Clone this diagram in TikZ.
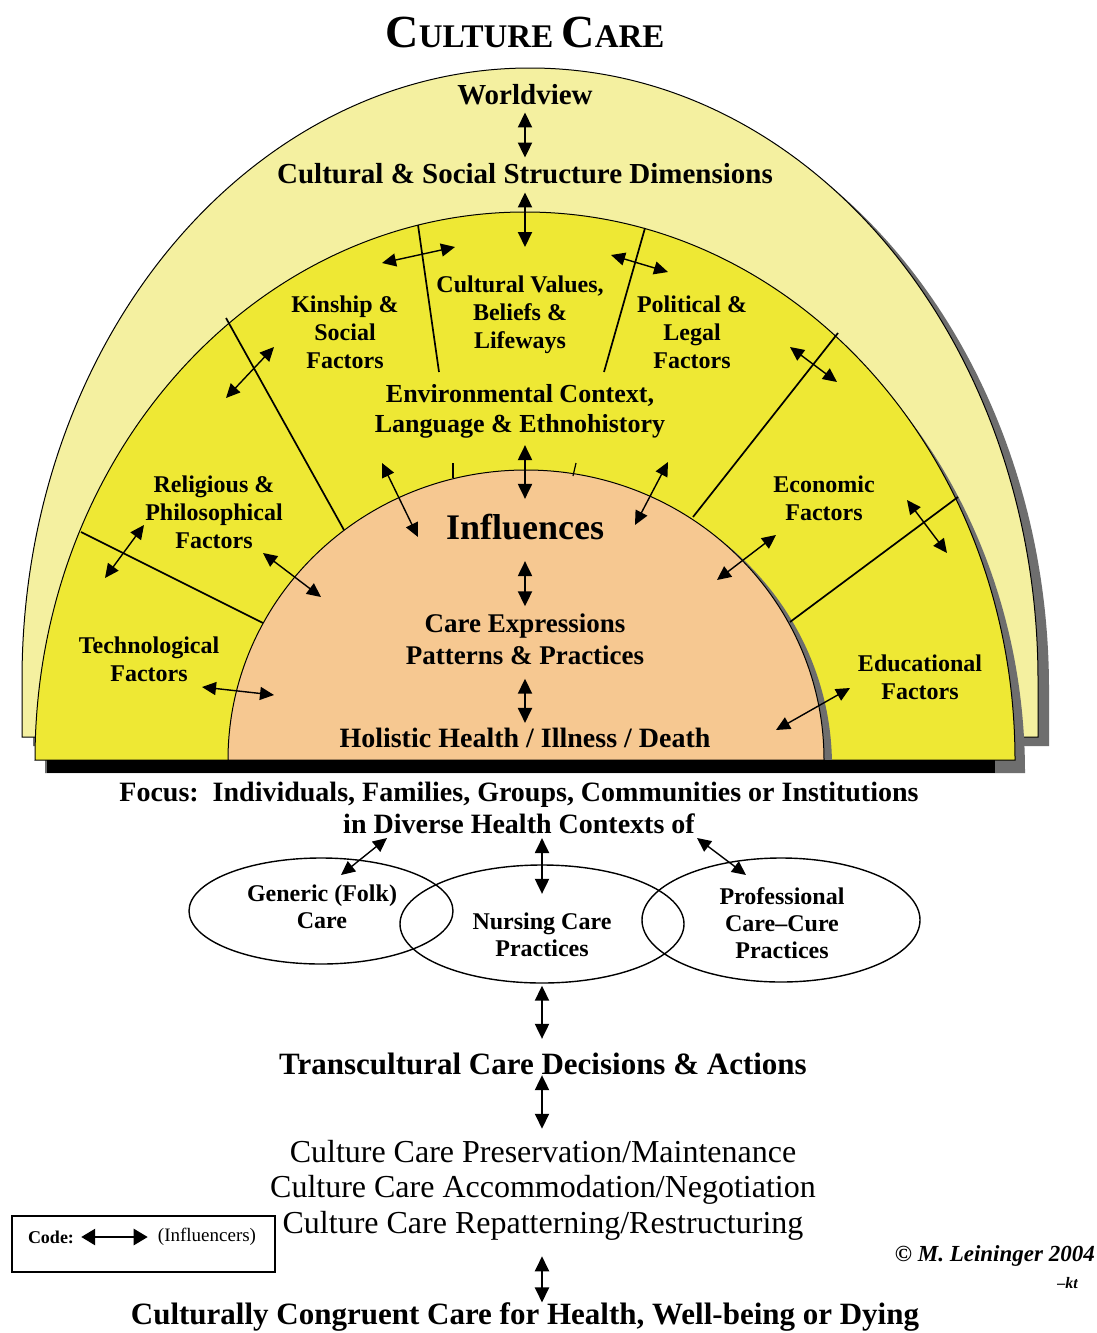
\documentclass[tikz,border=0pt]{standalone}
\usepackage{fontspec}
\setmainfont{Liberation Serif}
\usetikzlibrary{arrows.meta,shapes.geometric}

\definecolor{paleyellow}{RGB}{244,240,160}
\definecolor{bandyellow}{RGB}{238,232,52}
\definecolor{peach}{RGB}{246,200,145}
\definecolor{shadowgrey}{RGB}{110,110,110}

\begin{document}
\begin{tikzpicture}[
        x=1pt, y=-1pt,
        every node/.style={align=center, inner sep=0pt},
        infl/.style={{Triangle[length=15pt,width=14pt]}-{Triangle[length=15pt,width=14pt]}, line width=2pt},
        thin infl/.style={{Triangle[length=14pt,width=13pt]}-{Triangle[length=14pt,width=13pt]}, line width=1.4pt},
        rim/.style={draw=black, line width=1pt},
        divider/.style={line width=1.7pt},
        heading/.style={font=\bfseries\fontsize{29}{32}\selectfont},
        factor/.style={font=\bfseries\fontsize{24}{28}\selectfont},
        ovaltext/.style={font=\bfseries\fontsize{24}{27}\selectfont},
        modetext/.style={font=\fontsize{32}{35.5}\selectfont},
        oval/.style={ellipse, draw, line width=1.4pt}
    ]
        \useasboundingbox[fill=white] (0,0) rectangle (1096,1333);

        % Outer arch (worldview)
        \fill[shadowgrey, xshift=11pt, yshift=-9pt] (22,737) -- (22,680) arc[start angle=180, end angle=0, x radius=508pt, y radius=612pt] -- (1038,737) -- cycle;
        \path[fill=paleyellow, rim] (22,737) -- (22,680) arc[start angle=180, end angle=0, x radius=508pt, y radius=612pt] -- (1038,737) -- cycle;

        % Factor band
        \fill[shadowgrey, xshift=10pt, yshift=-13pt] (35,760) arc[start angle=180, end angle=0, x radius=490pt, y radius=548pt] -- cycle;
        \path[fill=bandyellow, rim] (35,760) arc[start angle=180, end angle=0, x radius=490pt, y radius=548pt] -- cycle;

        % Inner half circle
        \fill[shadowgrey, xshift=8pt, yshift=-6pt] (228,760) arc[start angle=180, end angle=0, x radius=298pt, y radius=290pt] -- cycle;
        \path[fill=peach, rim] (228,760) arc[start angle=180, end angle=0, x radius=298pt, y radius=290pt] -- cycle;

        \fill[black] (47,760) rectangle (995,773);

        % Dividers
        \draw[divider] (81,532) -- (263,623);
        \draw[divider] (226,318) -- (344,530);
        \draw[divider] (418,225) -- (439,372);
        \draw[divider] (645,228) -- (604,372);
        \draw[divider] (838,333) -- (693,517);
        \draw[divider] (958,497) -- (790,622);
        \draw[line width=1.2pt] (453,463) -- (453,478);
        \draw[line width=1.2pt] (576,463) -- (573,476);

        % Labels
        \node[font=\bfseries\fontsize{33}{33}\selectfont] (title) at (525,32) {{\fontsize{46}{46}\selectfont C}ULTURE {\fontsize{46}{46}\selectfont C}ARE};
        \node[heading] (world) at (525,95) {Worldview};
        \node[heading] (css) at (525,174) {Cultural \& Social Structure Dimensions};
        \node[factor] (kin) at (345,332) {Kinship \&\\Social\\Factors};
        \node[factor] (cvb) at (520,315) {Cultural Values,\\Beliefs \&\\Lifeways};
        \node[factor] (pol) at (692,332) {Political \&\\Legal\\Factors};
        \node[font=\bfseries\fontsize{26}{30}\selectfont] (env) at (520,411) {Environmental Context,\\Language \& Ethnohistory};
        \node[factor] (rel) at (214,512) {Religious \&\\Philosophical\\Factors};
        \node[factor] (eco) at (824,498) {Economic\\Factors};
        \node[factor] (tech) at (149,659) {Technological\\Factors};
        \node[factor] (edu) at (920,677) {Educational\\Factors};
        \node[font=\bfseries\fontsize{36}{36}\selectfont] (infl) at (525,527) {Influences};
        \node[font=\bfseries\fontsize{27}{32}\selectfont] (care) at (525,639) {Care Expressions\\Patterns \& Practices};
        \node[font=\bfseries\fontsize{28}{32}\selectfont] (hol) at (525,738) {Holistic Health / Illness / Death};
        \node[font=\bfseries\fontsize{28}{32}\selectfont] (focus) at (519,808) {Focus:\ \ Individuals, Families, Groups, Communities or Institutions\\in Diverse Health Contexts of};

        % Health care systems
        \node[oval, minimum width=264pt, minimum height=106pt] (generic) at (321,911) {};
        \node[oval, minimum width=284pt, minimum height=118pt] (nursing) at (542,924) {};
        \node[oval, minimum width=278pt, minimum height=124pt] (prof) at (781,920) {};
        \node[ovaltext] (generictxt) at (322,907) {Generic (Folk)\\Care};
        \node[ovaltext] (nursetxt) at (542,935) {Nursing Care\\Practices};
        \node[ovaltext] (proftxt) at (782,923) {Professional\\Care--Cure\\Practices};

        % Decisions and outcome
        \node[font=\bfseries\fontsize{31}{31}\selectfont] (trans) at (543,1064) {Transcultural Care Decisions \& Actions};
        \node[modetext] (modes) at (543,1190) {Culture Care Preservation/Maintenance\\Culture Care Accommodation/Negotiation\\Culture Care Repatterning/Restructuring};
        \node[font=\bfseries\fontsize{31}{31}\selectfont] (goal) at (525,1317) {Culturally Congruent Care for Health, Well-being or Dying};

        % Code box
        \node[draw, line width=1.5pt, minimum width=263pt, minimum height=56pt] (codebox) at (143.5,1244) {};
        \node[font=\bfseries\fontsize{18}{18}\selectfont] (codelbl) at (51,1237) {Code:};
        \node[font=\fontsize{19}{19}\selectfont] (codeinf) at (207,1237) {(Influencers)};
        \draw[{Triangle[length=14pt,width=16pt]}-{Triangle[length=14pt,width=16pt]}, line width=2.6pt, shorten <=7pt, shorten >=10pt] (codelbl.east) -- (codeinf.west);

        \node[font=\bfseries\itshape\fontsize{23}{23}\selectfont, anchor=east] (copy) at (1095,1256) {© M. Leininger 2004};
        \node[font=\bfseries\itshape\fontsize{16}{16}\selectfont, anchor=east] (kt) at (1078,1283) {--kt};

        % Vertical influence arrows
        \coordinate (cvtop) at (525,247);
        \draw[infl, shorten <=7pt, shorten >=6pt] (world.south) -- (world.south |- css.north);
        \draw[infl, shorten <=8pt] (css.south) -- (cvtop);
        \draw[infl, shorten <=7pt, shorten >=15pt] (env.south -| infl.north) -- (infl.north);
        \draw[infl, shorten <=21pt, shorten >=7pt] (infl.south) -- (care.north);
        \draw[infl, shorten <=14pt, shorten >=5pt] (care.south) -- (hol.north);
        \draw[infl, shorten <=4pt, shorten >=19pt] (nursetxt.north |- focus.south) -- (nursetxt.north);
        \draw[infl, shorten <=2pt, shorten >=14pt] (nursing.south) -- (nursing.south |- trans.north);
        \draw[infl, shorten >=11pt] (trans.south -| nursing.south) -- (nursing.south |- modes.north);
        \draw[infl, shorten <=16pt] (modes.south -| nursing.south) -- (nursing.south |- goal.north);

        % Arrows across dividers
        \coordinate (ks1) at (382,263);  \coordinate (ks2) at (455,247);
        \coordinate (cp1) at (611,255);  \coordinate (cp2) at (668,272);
        \coordinate (kr1) at (274,347);  \coordinate (kr2) at (226,398);
        \coordinate (pe1) at (790,347);  \coordinate (pe2) at (837,382);
        \coordinate (rt1) at (144,525);  \coordinate (rt2) at (105,578);
        \coordinate (ee1) at (907,500);  \coordinate (ee2) at (947,553);
        \draw[thin infl] (ks1) -- (ks2);
        \draw[thin infl] (cp1) -- (cp2);
        \draw[thin infl] (kr1) -- (kr2);
        \draw[thin infl] (pe1) -- (pe2);
        \draw[thin infl] (rt1) -- (rt2);
        \draw[thin infl] (ee1) -- (ee2);

        % Arrows into the inner half circle
        \coordinate (ri1) at (263,553);  \coordinate (ri2) at (321,597);
        \coordinate (ei1) at (776,535);  \coordinate (ei2) at (717,580);
        \coordinate (ti1) at (202,687);  \coordinate (ti2) at (274,695);
        \coordinate (di1) at (850,688);  \coordinate (di2) at (776,730);
        \coordinate (li1) at (382,463);  \coordinate (li2) at (418,537);
        \coordinate (ni1) at (668,462);  \coordinate (ni2) at (635,525);
        \draw[thin infl] (ri1) -- (ri2);
        \draw[thin infl] (ei1) -- (ei2);
        \draw[thin infl] (ti1) -- (ti2);
        \draw[thin infl] (di1) -- (di2);
        \draw[thin infl] (li1) -- (li2);
        \draw[thin infl] (ni1) -- (ni2);

        % Focus to care systems
        \coordinate (fg) at (387,838);  \coordinate (gf) at (341,875);
        \coordinate (fp) at (697,838);  \coordinate (pf) at (746,875);
        \draw[thin infl] (fg) -- (gf);
        \draw[thin infl] (fp) -- (pf);
    \end{tikzpicture}
\end{document}
